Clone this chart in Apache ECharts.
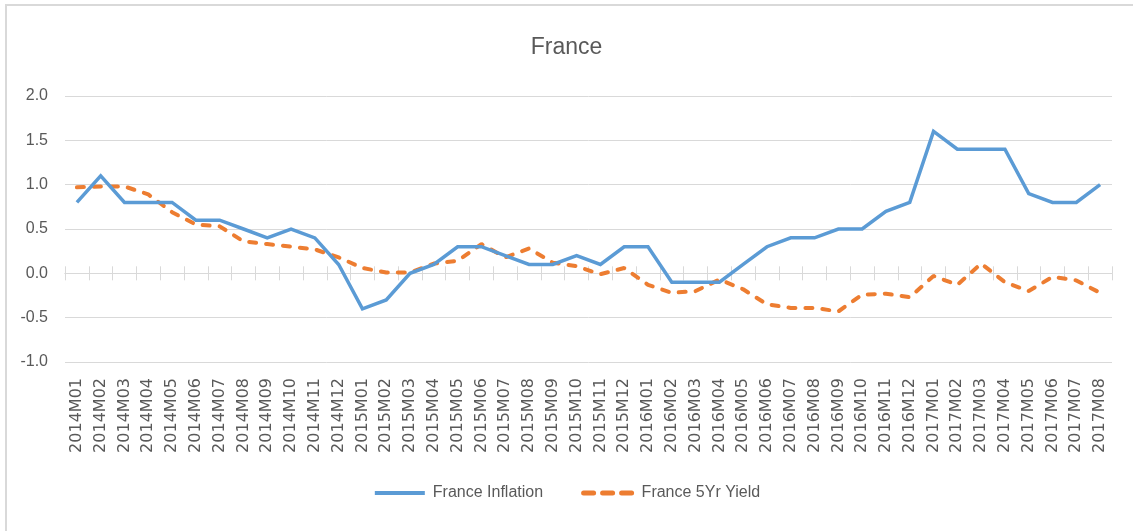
<!DOCTYPE html>
<html>
<head>
<meta charset="utf-8">
<script src="https://cdn.jsdelivr.net/npm/echarts@6/dist/echarts.min.js"></script>
<style>
  html, body { margin: 0; padding: 0; background: #fff; }
  #chart { width: 1133px; height: 531px; }
</style>
</head>
<body>
<div id="chart"></div>
<script>
// months 2014M01 .. 2017M08
const months = [
  '2014M01', '2014M02', '2014M03', '2014M04', '2014M05', '2014M06', '2014M07', '2014M08', '2014M09', '2014M10', '2014M11', '2014M12',
  '2015M01', '2015M02', '2015M03', '2015M04', '2015M05', '2015M06', '2015M07', '2015M08', '2015M09', '2015M10', '2015M11', '2015M12',
  '2016M01', '2016M02', '2016M03', '2016M04', '2016M05', '2016M06', '2016M07', '2016M08', '2016M09', '2016M10', '2016M11', '2016M12',
  '2017M01', '2017M02', '2017M03', '2017M04', '2017M05', '2017M06', '2017M07', '2017M08'
];

const inflation = [
  0.8, 1.1, 0.8, 0.8, 0.8, 0.6, 0.6, 0.5, 0.4, 0.5, 0.4, 0.1,
  -0.4, -0.3, 0.0, 0.1, 0.3, 0.3, 0.2, 0.1, 0.1, 0.2, 0.1, 0.3,
  0.3, -0.1, -0.1, -0.1, 0.1, 0.3, 0.4, 0.4, 0.5, 0.5, 0.7, 0.8,
  1.6, 1.4, 1.4, 1.4, 0.9, 0.8, 0.8, 1.0
];

const yield5y = [
  0.97, 0.98, 0.98, 0.89, 0.69, 0.55, 0.53, 0.36, 0.33, 0.30, 0.27, 0.18,
  0.06, 0.01, 0.01, 0.11, 0.14, 0.33, 0.18, 0.28, 0.12, 0.08, -0.01, 0.06,
  -0.13, -0.22, -0.20, -0.07, -0.18, -0.35, -0.39, -0.39, -0.43, -0.24, -0.23, -0.27,
  -0.03, -0.13, 0.11, -0.10, -0.20, -0.04, -0.08, -0.22
];

const yTicks = { min: -1, max: 2, step: 0.5 };

const grey = '#595959';
const gridGrey = '#d9d9d9';

const chart = echarts.init(document.getElementById('chart'));

// x axes used only to draw the crossing tick marks on the zero line
// (one sits at 'bottom' -> ticks down, the other at 'top' -> ticks up)
function zeroAxis(pos, yIdx) {
  return {
    type: 'category',
    data: months,
    position: pos,
    boundaryGap: true,
    axisLine: { show: true, onZero: true, onZeroAxisIndex: yIdx, lineStyle: { color: gridGrey, width: 1 } },
    axisTick: { show: true, interval: 0, length: 7, lineStyle: { color: gridGrey } },
    axisLabel: { show: false },
    splitLine: { show: false }
  };
}

const option = {
  backgroundColor: '#fff',
  animation: false,
  title: {
    text: 'France',
    left: 'center',
    top: 31,
    textStyle: { color: grey, fontSize: 23, fontWeight: 'normal', fontFamily: 'Liberation Sans, Arial, sans-serif' }
  },
  legend: {
    bottom: 25,
    left: 'center',
    itemWidth: 50,
    itemHeight: 10,
    itemGap: 38,
    textStyle: { color: grey, fontSize: 16, fontFamily: 'Liberation Sans, Arial, sans-serif', padding: [0, 0, 0, 3] },
    itemStyle: { opacity: 0 },
    data: [
      { name: 'France Inflation', lineStyle: { width: 4 } },
      { name: 'France 5Yr Yield', lineStyle: { width: 5, type: [10, 9], cap: 'round' } }
    ]
  },
  graphic: [{
    type: 'rect',
    shape: { x: 6, y: 5, width: 1200, height: 600 },
    style: { fill: 'none', stroke: gridGrey, lineWidth: 2 },
    silent: true
  }],
  grid: { left: 65, right: 21, top: 96, bottom: 169 },
  xAxis: [
    {
      type: 'category',
      data: months,
      position: 'bottom',
      boundaryGap: true,
      axisLine: { show: false, onZero: false },
      axisTick: { show: false },
      axisLabel: {
        rotate: 90,
        color: grey,
        fontSize: 16,
        margin: 16,
        interval: 0,
        fontFamily: 'DejaVu Sans, sans-serif'
      }
    },
    zeroAxis('bottom', 0),
    zeroAxis('top', 1)
  ],
  yAxis: [
    {
      type: 'value',
      min: yTicks.min,
      max: yTicks.max,
      interval: yTicks.step,
      axisLine: { show: false },
      axisTick: { show: false },
      axisLabel: {
        color: grey,
        fontSize: 16,
        margin: 17,
        fontFamily: 'Liberation Sans, Arial, sans-serif',
        formatter: v => v.toFixed(1)
      },
      splitLine: { lineStyle: { color: gridGrey, width: 1 } }
    },
    {
      // twin scale so a second x axis can also sit on zero
      type: 'value',
      position: 'right',
      min: yTicks.min,
      max: yTicks.max,
      interval: yTicks.step,
      axisLine: { show: false },
      axisTick: { show: false },
      axisLabel: { show: false },
      splitLine: { show: false }
    }
  ],
  series: [
    {
      name: 'France Inflation',
      type: 'line',
      xAxisIndex: 0,
      data: inflation,
      symbol: 'none',
      itemStyle: { color: '#5b9bd5' },
      lineStyle: { color: '#5b9bd5', width: 3.5, join: 'miter' },
      z: 3
    },
    {
      name: 'France 5Yr Yield',
      type: 'line',
      xAxisIndex: 0,
      data: yield5y,
      symbol: 'none',
      itemStyle: { color: '#ed7d31' },
      lineStyle: { color: '#ed7d31', width: 4, type: [7, 10], cap: 'round' },
      z: 2
    }
  ]
};

chart.setOption(option);
</script>
</body>
</html>
